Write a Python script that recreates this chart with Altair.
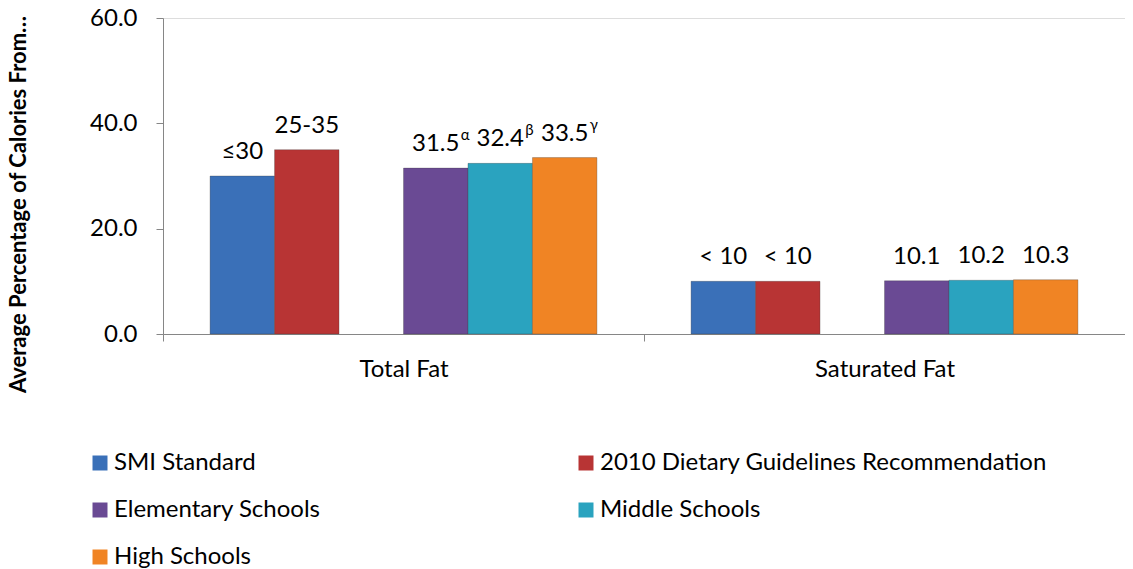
import altair as alt
import pandas as pd

categories = ["Total Fat", "Saturated Fat"]
series = ["SMI Standard", "2010 Dietary Guidelines Recommendation",
          "Elementary Schools", "Middle Schools", "High Schools"]
slots = ["SMI Standard", "2010 Dietary Guidelines Recommendation", " ",
         "Elementary Schools", "Middle Schools", "High Schools"]
colors = ["#3A70B8", "#B83434", "#6A4A94", "#2AA3BF", "#F08424"]

total_fat = [30.0, 35.0, 31.5, 32.4, 33.5]
sat_fat = [10.0, 10.0, 10.1, 10.2, 10.3]
total_labels = ["≤30", "25-35", "31.5", "32.4", "33.5"]
sat_labels = ["< 10", "< 10", "10.1", "10.2", "10.3"]
total_sup = ["", "", "α", "β", "γ"]
sat_sup = ["", "", "", "", ""]
y_ticks = [0, 20, 40, 60]

rows = []
for cat, vals, labs, sups in [("Total Fat", total_fat, total_labels, total_sup),
                              ("Saturated Fat", sat_fat, sat_labels, sat_sup)]:
    for s, v, l, sp in zip(series, vals, labs, sups):
        rows.append({"category": cat, "series": s, "value": v, "label": l, "sup": sp})
df = pd.DataFrame(rows)

FONT = "Lato"

x_enc = alt.X("category:N", scale=alt.Scale(domain=categories, paddingInner=0, paddingOuter=0),
              axis=alt.Axis(title=None, labelAngle=0, tickBand="extent", tickSize=7,
                            labelPadding=16, labelFontSize=24, labelFont=FONT,
                            labelColor="#000000", domainColor="#868686", tickColor="#868686"))
xo_enc = alt.XOffset("series:N", scale=alt.Scale(domain=slots, paddingInner=0, paddingOuter=0.73))
y_enc = alt.Y("value:Q", scale=alt.Scale(domain=[0, 60], nice=False),
              axis=alt.Axis(values=y_ticks, format=".1f", tickSize=7, labelPadding=19,
                            labelFontSize=24, labelFont=FONT, labelColor="#000000",
                            domainColor="#868686", tickColor="#868686", grid=False,
                            title="Average Percentage of Calories From…",
                            titleFont=FONT, titleFontSize=22, titleFontWeight="bold",
                            titleColor="#000000", titleAngle=270, titleAlign="center",
                            titleBaseline="bottom", titleX=-133, titleY=186, titleLimit=1000))

base = alt.Chart(df)

bars = base.mark_bar(stroke="#3a3a3a", strokeWidth=0.6, strokeOpacity=0.5).encode(
    x=x_enc, xOffset=xo_enc, y=y_enc,
    color=alt.Color("series:N", scale=alt.Scale(domain=series, range=colors),
                    legend=alt.Legend(title=None, orient="none", legendX=-75, legendY=433,
                                      direction="horizontal",
                                      columns=2, columnPadding=253, rowPadding=23,
                                      symbolType="square", symbolSize=225, symbolStrokeWidth=0,
                                      labelFont=FONT, labelFontSize=24, labelColor="#000000",
                                      labelOffset=2, labelLimit=600)),
)

labels = base.mark_text(font=FONT, fontSize=24, color="#000000", baseline="alphabetic", dy=-17).encode(
    x="category:N", xOffset="series:N", y="value:Q", text="label:N")

sups = base.transform_filter("datum.sup != ''").mark_text(
    font=FONT, fontSize=15, color="#000000", baseline="alphabetic", align="left", dx=25, dy=-28).encode(
    x="category:N", xOffset="series:N", y="value:Q", text="sup:N")

chart = alt.layer(bars, labels, sups).properties(
    width=962, height=316,
    autosize=alt.AutoSizeParams(type="none"),
    padding={"left": 155, "top": 10, "right": 0, "bottom": 234},
).configure_view(stroke=None).configure(font=FONT)

chart.save("out.html", embed_options={"renderer": "svg", "actions": False})
